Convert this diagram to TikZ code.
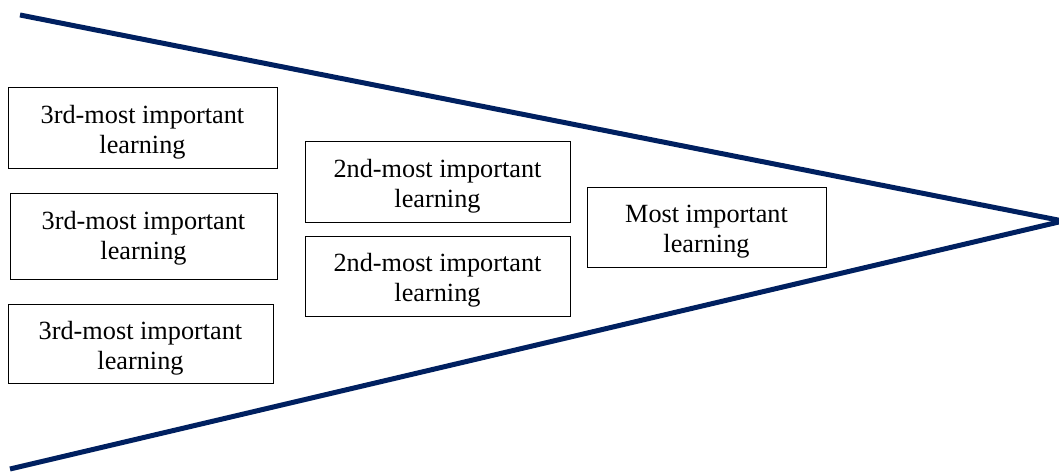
\documentclass[tikz,border=0pt]{standalone}
\usepackage{fontspec}
\setmainfont{Liberation Serif}
\definecolor{funnelblue}{HTML}{002060}
\tikzset{
  learnbox/.style={draw, line width=0.75pt, inner sep=0pt},
  learntext/.style={align=center, inner sep=0pt, yshift=-3.5pt,
    font=\fontsize{19.7}{22.5}\selectfont},
  funnel/.style={draw=funnelblue, line width=3.75pt}
}
\begin{document}
\begin{tikzpicture}[x=0.75pt, y=-0.75pt]
        \useasboundingbox (0, 0) rectangle (1059, 474);

        % funnel edges
        \coordinate (top) at (20, 15);
        \coordinate (bot) at (10, 469);
        \coordinate (tip) at (1063, 221);
        \draw [funnel] (top) -- (tip);
        \draw [funnel] (bot) -- (tip);

        % third level
        \node (third1) at (142.5, 128) [learnbox, minimum width = 201.75pt, minimum height = 60pt] {};
        \node (t1) at (third1.center) [learntext] {3rd-most important\\learning};
        \node (third2) at (143.5, 236) [learnbox, minimum width = 200.25pt, minimum height = 64.5pt] {};
        \node (t2) at (third2.center) [learntext, yshift = 2pt] {3rd-most important\\learning};
        \node (third3) at (140.5, 343.5) [learnbox, minimum width = 198.75pt, minimum height = 59.25pt] {};
        \node (t3) at (third3.center) [learntext] {3rd-most important\\learning};

        % second level
        \node (second1) at (437.5, 182) [learnbox, minimum width = 198.75pt, minimum height = 60pt] {};
        \node (s1) at (second1.center) [learntext] {2nd-most important\\learning};
        \node (second2) at (437.5, 276) [learnbox, minimum width = 198.75pt, minimum height = 60pt] {};
        \node (s2) at (second2.center) [learntext] {2nd-most important\\learning};

        % first level
        \node (first) at (706.5, 227) [learnbox, minimum width = 179.25pt, minimum height = 60pt] {};
        \node (f1) at (first.center) [learntext] {Most important\\learning};

\end{tikzpicture}
\end{document}
